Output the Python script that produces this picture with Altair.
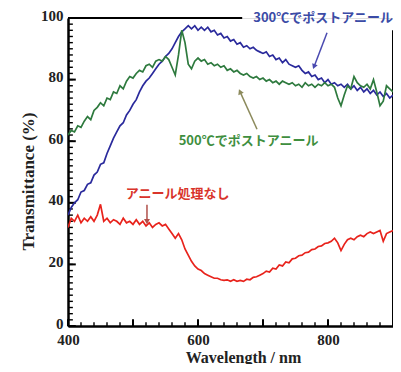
import altair as alt
import pandas as pd

# wavelength grid (nm), 5 nm step
wavelength = list(range(400, 905, 5))

# 300°C post-anneal (blue)
t_300 = [
    36, 38.5, 40, 41, 43.5, 44, 46, 46.5, 49, 50,
    52.5, 53, 56, 58.5, 61, 63, 65, 66, 68.5, 70,
    72, 73.5, 76, 78, 79.5, 80.5, 82, 83.5, 85, 86,
    87.5, 88.5, 90, 92, 94, 95.5, 96.5, 97.5, 96.5, 97.5,
    96, 97, 96, 97, 95.5, 96, 94.5, 95, 93.5, 94,
    92.5, 93, 91.5, 92, 90.5, 91, 90, 90.5, 89.5, 89,
    88.5, 89, 87.5, 88, 86.5, 87, 85.5, 86.5, 85, 84.5,
    84, 84.5, 83, 82, 82.5, 81, 81.5, 80, 80.5, 79,
    80, 78.5, 79, 78, 78.5, 77.5, 78.5, 77, 78, 76.5,
    77.5, 76, 77, 75.5, 76.5, 75, 76, 74.5, 75.5, 74,
    75,
]

# 500°C post-anneal (green)
t_500 = [
    62, 63.5, 63, 65, 64.5, 66.5, 68, 67, 70, 71,
    72.5, 71.5, 74, 73.5, 76, 75.5, 78, 77, 79.5, 81,
    80.5, 82, 83, 82.5, 84.5, 85, 84, 86, 86.5, 86,
    87.5, 86.5, 84, 81.5, 88, 96, 92, 85, 83.5, 86,
    87, 86, 86.5, 85, 85.5, 84.5, 85, 84, 84.5, 83,
    83.5, 82.5, 83, 82, 81.5, 82, 81, 80.5, 81, 80,
    80.5, 79.5, 80, 79, 79.5, 78.5, 79.5, 79, 78.5, 79,
    78, 78.5, 77.5, 79, 78, 78.5, 77.5, 78.5, 78, 79,
    78, 78.5, 77.5, 74, 71.5, 75, 78, 77, 81, 79,
    78, 77.5, 78.5, 77, 80, 76, 71.5, 73, 78, 77,
    76,
]

# no anneal (red)
t_none = [
    32, 35, 34, 36, 33.5, 35, 34, 35.5, 34, 36,
    39.5, 34, 35, 33.5, 34.5, 34, 33, 35, 33.5, 34,
    33, 34.5, 33, 34, 32.5, 33.5, 32, 33, 33.5, 32.5,
    33, 31.5, 30, 28.5, 30, 28, 25, 23, 21, 19.5,
    18.5, 18, 17, 16.5, 16, 15.5, 15.5, 15, 14.8, 15,
    14.5, 15, 14.5, 14.8, 14.5, 15.2, 15, 15.8, 16, 16.5,
    17, 17.8, 17.5, 18.8, 18.5, 19.8, 19.5, 20.8, 20.5, 21.8,
    22, 22.8, 23, 23.8, 24, 24.8, 25, 25.8, 26, 26.8,
    27, 27.5, 28.5, 27, 24.5, 26.5, 28, 28.5, 28, 29,
    29.5, 29, 30, 30.5, 30, 30.5, 31, 27.5, 30, 30.5,
    31,
]

series_names = ["300", "500", "none"]
series_colors = ["#2a2a9c", "#2e7a3e", "#e8231c"]

rows = []
for name, vals in zip(series_names, [t_300, t_500, t_none]):
    for w, v in zip(wavelength, vals):
        rows.append({"wl": w, "t": v, "s": name})
df = pd.DataFrame(rows)

# annotation labels
label_text = ["300℃でポストアニール", "500℃でポストアニール", "アニール処理なし"]
label_x = [900, 677.7, 568.5]
label_y = [100, 60, 42.9]
label_align = ["right", "center", "center"]
label_color = ["#3b4ba6", "#3f8f3f", "#d9342b"]

# arrows (start -> tip)
arrow_x0 = [798.5, 690.8, 521.5]
arrow_y0 = [95.2, 63.9, 39.4]
arrow_x1 = [778.5, 664.6, 521.5]
arrow_y1 = [84.2, 76.1, 33.9]
arrow_angle = [21, 336, 0]
arrow_shape = ["triangle-down", "triangle-up", "triangle-down"]
arrow_color = ["#4a4ab0", "#8c8a5c", "#b0504a"]

# frame pieces (top edge interrupted by label, right edge)
frame_x0 = [400, 900]
frame_x1 = [668, 900]
frame_y0 = [100, 0]
frame_y1 = [100, 96]

x_major = list(range(400, 901, 100))
x_minor = list(range(400, 901, 20))
y_major = list(range(0, 101, 20))
y_minor = list(range(0, 101, 2))

xs = alt.Scale(domain=[400, 900], nice=False, zero=False)
ys = alt.Scale(domain=[0, 100], nice=False)

serif = "Liberation Serif"
cjk = "Noto Sans CJK JP"

lines = alt.Chart(df).mark_line(strokeWidth=1.7, clip=True).encode(
    x=alt.X("wl:Q", scale=xs, title="Wavelength / nm",
            axis=alt.Axis(values=[400, 600, 800], ticks=False, grid=False,
                          labelFlush=False,
                          domainColor="black", domainWidth=2.5,
                          labelFont=serif, labelFontSize=15, labelFontWeight="bold",
                          labelColor="#222", labelPadding=6,
                          titleFont=serif, titleFontSize=16, titleFontWeight="bold",
                          titleColor="#222", titleX=175, titleY=31,
                          titleBaseline="middle", titleAlign="center")),
    y=alt.Y("t:Q", scale=ys, title="Transmittance (%)",
            axis=alt.Axis(values=y_major, ticks=False, grid=False,
                          labelFlush=False, labelOffset=-3,
                          domainColor="black", domainWidth=2.5,
                          labelFont=serif, labelFontSize=15, labelFontWeight="bold",
                          labelColor="#222", labelPadding=5,
                          titleFont=serif, titleFontSize=17, titleFontWeight="bold",
                          titleColor="#222", titleX=-40, titleY=163,
                          titleBaseline="middle", titleAlign="center", titleAngle=-90)),
    color=alt.Color("s:N", scale=alt.Scale(domain=series_names, range=series_colors), legend=None),
    detail="s:N",
)

frame = alt.Chart(pd.DataFrame({"x0": frame_x0, "x1": frame_x1, "y0": frame_y0, "y1": frame_y1})).mark_rule(
    color="black", strokeWidth=2).encode(x="x0:Q", x2="x1:Q", y="y0:Q", y2="y1:Q")

ytick_major = alt.Chart(pd.DataFrame({"v": y_major})).mark_rule(color="black", strokeWidth=2).encode(
    y="v:Q", x=alt.X(datum=400), x2=alt.X2(datum=412))
ytick_minor = alt.Chart(pd.DataFrame({"v": y_minor})).mark_rule(color="black", strokeWidth=1.4).encode(
    y="v:Q", x=alt.X(datum=400), x2=alt.X2(datum=407.5))
xtick_major = alt.Chart(pd.DataFrame({"v": x_major})).mark_rule(color="black", strokeWidth=2).encode(
    x="v:Q", y=alt.Y(datum=0), y2=alt.Y2(datum=2.2))
xtick_minor = alt.Chart(pd.DataFrame({"v": x_minor})).mark_rule(color="black", strokeWidth=1.4).encode(
    x="v:Q", y=alt.Y(datum=0), y2=alt.Y2(datum=1.2))

ann_df = pd.DataFrame({"x": label_x, "y": label_y, "txt": label_text, "al": label_align, "c": label_color})
labels_layers = []
for al in ["right", "center"]:
    sub = ann_df[ann_df["al"] == al]
    labels_layers.append(
        alt.Chart(sub).mark_text(font=cjk, fontSize=13, fontWeight="bold", align=al, baseline="middle").encode(
            x="x:Q", y="y:Q", text="txt:N", color=alt.Color("c:N", scale=None))
    )

arr_df = pd.DataFrame({"x0": arrow_x0, "y0": arrow_y0, "x1": arrow_x1, "y1": arrow_y1,
                       "ang": arrow_angle, "shp": arrow_shape, "c": arrow_color})
arrow_lines = alt.Chart(arr_df).mark_rule(strokeWidth=1.5).encode(
    x="x0:Q", y="y0:Q", x2="x1:Q", y2="y1:Q", color=alt.Color("c:N", scale=None))
arrow_heads = alt.Chart(arr_df).mark_point(filled=True, size=35, opacity=1).encode(
    x="x1:Q", y="y1:Q", angle=alt.Angle("ang:Q", scale=None),
    shape=alt.Shape("shp:N", scale=None), color=alt.Color("c:N", scale=None))

chart = alt.layer(
    frame, ytick_minor, ytick_major, xtick_minor, xtick_major, lines,
    arrow_lines, arrow_heads, *labels_layers,
).properties(
    width=325, height=308,
    autosize=alt.AutoSizeParams(type="none"),
    padding={"left": 60, "top": 10, "right": 0, "bottom": 38},
).configure_view(stroke=None).configure(background="white")

chart.save("out.html", embed_options={"renderer": "svg", "actions": False})
